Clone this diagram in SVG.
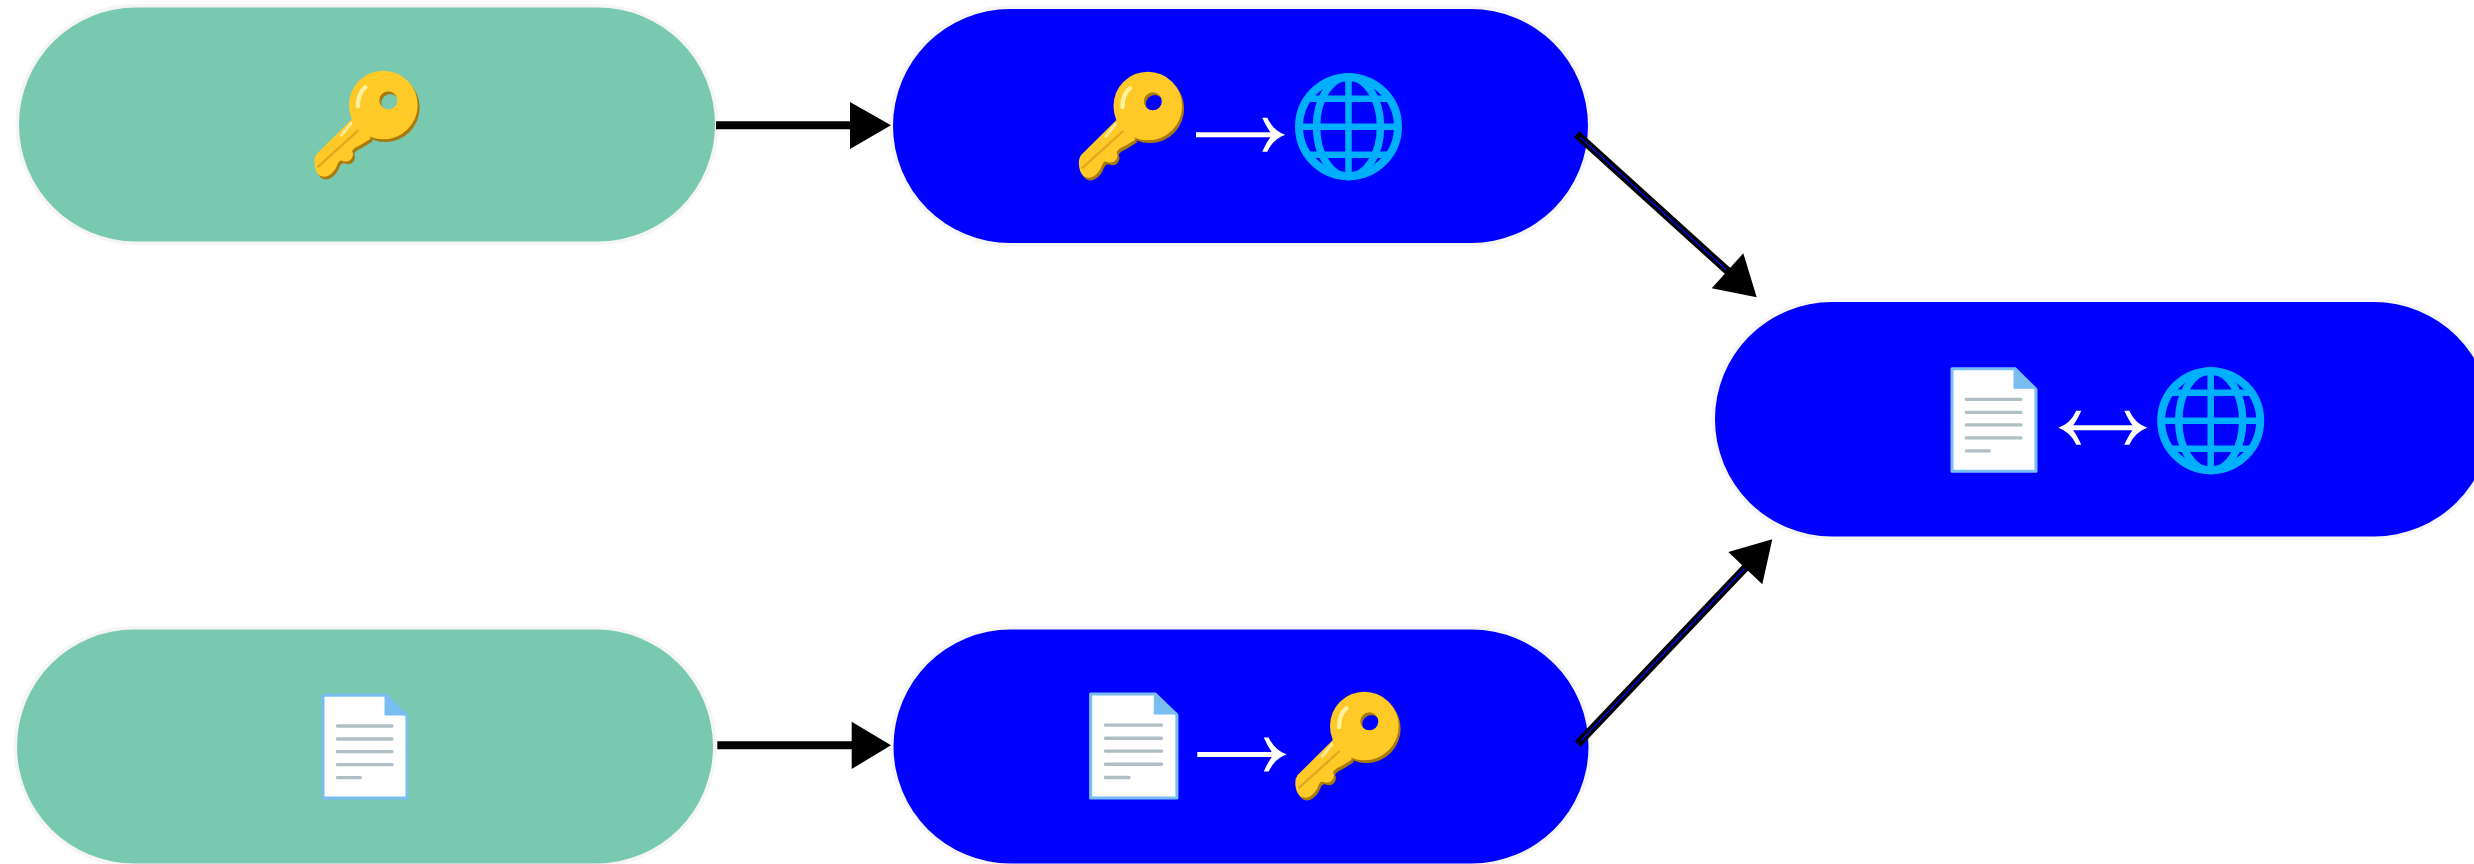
<svg xmlns="http://www.w3.org/2000/svg" width="2474" height="864" viewBox="0 0 2474 864">
<style>
.green{fill:#79c9b0;stroke:#f5f5f5;stroke-width:7;paint-order:stroke}
.blue{fill:#0000ff;stroke:#f5f5f5;stroke-width:7;paint-order:stroke}
.conn{stroke:#000;stroke-width:8;fill:none}
.core{stroke:#0000ff;stroke-width:1.2;fill:none}
.head{fill:#000}
.wline{stroke:#fff;stroke-width:5;fill:none}
.wh{fill:#fff}
</style>
<defs>
<g id="key-shape">
<circle cx="310" cy="165" r="103"/>
<path d="M215 208L110 312Q100 325 104 348Q108 372 122 378Q138 384 150 374Q166 362 172 344Q178 330 186 332Q206 340 216 324Q222 312 216 304Q222 292 240 286L272 266L240 170Z"/>
</g>
<mask id="key-hole-main" maskUnits="userSpaceOnUse" x="0" y="0" width="540" height="450"><rect width="540" height="450" fill="#fff"/><circle cx="325" cy="151" r="27" fill="#000"/></mask>
<mask id="key-hole-shadow" maskUnits="userSpaceOnUse" x="0" y="0" width="540" height="450"><rect width="540" height="450" fill="#fff"/><circle cx="331" cy="159" r="27" fill="#000"/></mask>
<g id="key" transform="scale(0.3333)">
<g mask="url(#key-hole-shadow)"><use href="#key-shape" x="6" y="8" fill="#a87a0c"/></g>
<g mask="url(#key-hole-main)"><use href="#key-shape" fill="#ffca28"/></g>
<path d="M236 240L112 352" stroke="#e0a81c" stroke-width="7" fill="none"/>
<path d="M256 112Q234 130 234 168" stroke="#fff0a0" stroke-width="13" stroke-linecap="round" fill="none"/>
<path d="M213 220L184 256" stroke="#ffeb99" stroke-width="9" stroke-linecap="round" fill="none"/>
</g>
<g id="doc" transform="scale(0.3333)">
<path d="M129 76H318L381 138V384H129Z" fill="#fff" stroke="#79bef2" stroke-width="9" stroke-linejoin="round"/>
<path d="M315 74V135H382Z" fill="#79bef2" stroke="#79bef2" stroke-width="3" stroke-linejoin="round"/>
<g stroke="#b0bec5" stroke-width="10" stroke-linecap="round">
<path d="M172 168H336M172 207H336M172 245H336M172 284H336M172 323H241"/>
</g>
</g>
<g id="globe" fill="none" stroke="#00b0ff">
<circle r="49.500" stroke-width="8"/>
<ellipse rx="32" ry="50" stroke-width="7.500"/>
<path stroke-width="6.500" d="M0-50V50M-50 0H50M-41-28H41M-41 28H41"/>
</g>
<path id="barb" d="M0 0Q-12-4-18-17L-23-17Q-18-6-13 0Q-18 6-23 17L-18 17Q-12 4 0 0Z"/>
</defs>
<rect width="2474" height="864" fill="#fff"/>
<g id="node-key">
<rect class="green" x="19" y="7.500" width="696" height="234" rx="117"/>
<use href="#key" x="280" y="50"/>
</g>
<g id="node-key-to-globe">
<rect class="blue" x="893" y="9" width="695" height="234" rx="117"/>
<use href="#key" x="1044.500" y="51"/>
<path class="wline" d="M1196 134.700H1278"/>
<use href="#barb" x="1285.300" y="134.700" class="wh"/>
<use href="#globe" x="1348.500" y="126.700"/>
</g>
<g id="node-doc-globe">
<rect class="blue" x="1715" y="302" width="776" height="234.500" rx="117"/>
<use href="#doc" x="1909" y="343.300"/>
<path class="wline" d="M2066 427.700H2140"/>
<use href="#barb" x="2147.300" y="427.700" class="wh"/>
<use href="#barb" transform="translate(2058.300 427.700) rotate(180)" class="wh"/>
<use href="#globe" x="2210.700" y="420.700"/>
</g>
<g id="node-doc">
<rect class="green" x="17" y="629.500" width="696" height="234" rx="117"/>
<use href="#doc" x="280" y="670"/>
</g>
<g id="node-doc-to-key">
<rect class="blue" x="893.500" y="629.500" width="695" height="234" rx="117"/>
<use href="#doc" transform="translate(1046.500 668.400) scale(1.027 1.013)"/>
<path class="wline" d="M1197.300 754.500H1279"/>
<use href="#barb" x="1286.700" y="754.500" class="wh"/>
<use href="#key" x="1261" y="671"/>
</g>
<g id="connectors">
<path class="conn" d="M716 125.300H852"/><path class="head" d="M850 102L891 125.300L850 149Z"/>
<path class="conn" d="M717.300 745.300H853"/><path class="head" d="M851.700 721.700L891 745.300L851.700 769Z"/>
<path class="conn" d="M1576.700 134.300L1728 271.300"/><path class="core" d="M1580 137.300L1726 269.500"/><path class="head" d="M1743.300 253.300L1756.700 297.300L1711.700 288.300Z"/>
<path class="conn" d="M1577.700 744L1746 567"/><path class="core" d="M1581 740.500L1744.500 568.500"/><path class="head" d="M1728.300 552L1772.300 539.300L1762.300 584.300Z"/>
</g>
</svg>
